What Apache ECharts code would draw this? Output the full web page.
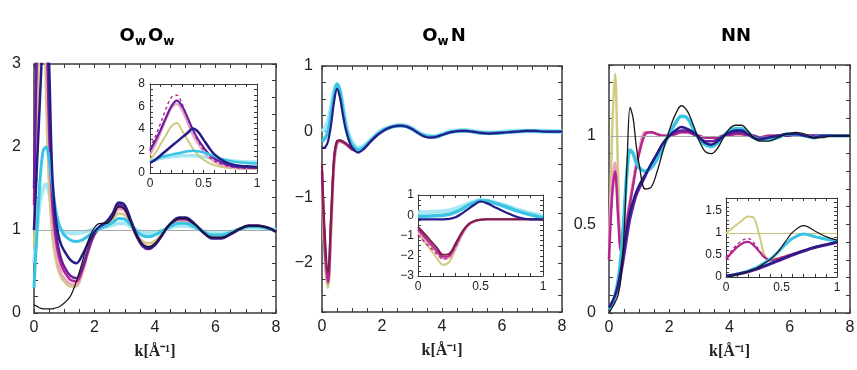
<!DOCTYPE html>
<html>
<head>
<meta charset="utf-8">
<script src="https://cdn.jsdelivr.net/npm/echarts@6/dist/echarts.min.js"></script>
<style>
  html, body { margin: 0; padding: 0; background: #fff; }
  #main { width: 857px; height: 370px; }
</style>
</head>
<body>
<div id="main"></div>
<script>
// k grid of the three main panels and of the three insets
var KX = [0, 0.1, 0.2, 0.3, 0.4, 0.5, 0.6, 0.7, 0.8, 0.9, 1.0, 1.2, 1.4, 1.6, 1.8, 2.0, 2.2, 2.4, 2.6, 2.8,
          3.0, 3.2, 3.4, 3.6, 3.8, 4.0, 4.2, 4.4, 4.6, 4.8, 5.0, 5.3, 5.6, 5.9, 6.2, 6.5, 6.8, 7.1, 7.4, 7.7, 8.0];
var IX = [0, 0.05, 0.1, 0.15, 0.2, 0.25, 0.3, 0.35, 0.4, 0.45, 0.5, 0.55, 0.6, 0.7, 0.8, 0.9, 1.0];

// O_w O_w
var ooBlack   = [0.10,0.08,0.06,0.05,0.05,0.05,0.05,0.06,0.07,0.09,0.12, 0.20,0.38,0.62,0.88,1.03,1.08,1.08,1.15,1.28, 1.25,1.08,0.92,0.82,0.80,0.84,0.93,1.03,1.10,1.14, 1.14,1.07,0.97,0.91,0.91,0.96,1.02,1.05,1.05,1.03,0.98];
var ooNavy    = [1.0,1.8,2.6,3.4,4.0,3.0,1.7,1.2,0.95,0.82,0.75, 0.64,0.60,0.70,0.85,0.98,1.05,1.10,1.20,1.33, 1.30,1.12,0.94,0.82,0.78,0.82,0.92,1.03,1.11,1.15, 1.15,1.08,0.97,0.90,0.90,0.95,1.01,1.05,1.05,1.03,0.98];
var ooPurple  = [1.5,3.5,5.5,6.3,4.2,2.4,1.5,1.05,0.80,0.65,0.56, 0.45,0.42,0.55,0.78,0.96,1.05,1.10,1.18,1.30, 1.27,1.10,0.92,0.80,0.77,0.82,0.92,1.03,1.10,1.14, 1.14,1.07,0.97,0.90,0.90,0.95,1.01,1.05,1.05,1.03,0.98];
var ooMagenta = [1.3,3.4,5.8,6.0,3.9,2.2,1.35,0.95,0.72,0.58,0.50, 0.40,0.38,0.52,0.76,0.95,1.04,1.09,1.17,1.28, 1.25,1.09,0.92,0.81,0.78,0.83,0.92,1.03,1.10,1.13, 1.13,1.07,0.97,0.91,0.91,0.95,1.01,1.05,1.05,1.03,0.98];
var ooPink    = [1.0,2.8,5.0,5.5,3.4,1.9,1.15,0.80,0.60,0.48,0.42, 0.35,0.34,0.50,0.75,0.94,1.03,1.08,1.15,1.25, 1.23,1.08,0.93,0.83,0.80,0.84,0.93,1.03,1.09,1.12, 1.12,1.06,0.97,0.92,0.92,0.96,1.01,1.04,1.04,1.02,0.98];
var ooOlive   = [0.8,2.0,3.8,4.2,2.6,1.5,0.95,0.68,0.52,0.43,0.38, 0.32,0.32,0.48,0.74,0.94,1.03,1.07,1.12,1.20, 1.18,1.06,0.94,0.86,0.84,0.87,0.94,1.02,1.08,1.11, 1.11,1.05,0.98,0.93,0.93,0.97,1.01,1.04,1.04,1.02,0.99];
var ooCyan    = [0.3,1.0,1.6,1.95,2.0,1.85,1.55,1.28,1.10,1.00,0.94, 0.88,0.86,0.88,0.93,0.98,1.02,1.05,1.09,1.14, 1.13,1.06,0.98,0.93,0.92,0.94,0.98,1.02,1.06,1.08, 1.08,1.04,0.98,0.94,0.94,0.97,1.01,1.04,1.04,1.02,0.99];
var ooLcyan   = [0.6,1.0,1.35,1.5,1.55,1.45,1.3,1.15,1.05,1.0,0.98, 0.96,0.96,0.97,0.99,1.01,1.03,1.04,1.06,1.08, 1.08,1.04,1.0,0.97,0.96,0.97,0.99,1.01,1.04,1.05, 1.05,1.03,0.99,0.96,0.96,0.98,1.01,1.03,1.03,1.02,1.0];

var i1Navy    = [0.9,1.2,1.6,2.0,2.4,2.8,3.2,3.6,4.0,3.7,3.0,2.3,1.7,1.0,0.7,0.6,0.55];
var i1Purple  = [2.0,2.9,3.9,5.0,6.0,6.5,6.0,5.0,3.9,3.0,2.3,1.7,1.3,0.8,0.55,0.5,0.45];
var i1MagDash = [2.2,3.3,4.5,5.8,6.8,7.0,6.2,5.0,3.8,2.9,2.1,1.5,1.1,0.7,0.5,0.45,0.45];
var i1Pink    = [1.6,2.5,3.6,4.8,5.8,6.2,5.6,4.5,3.4,2.6,1.9,1.4,1.0,0.6,0.45,0.4,0.4];
var i1Olive   = [1.2,1.8,2.6,3.4,4.2,4.5,3.8,3.0,2.2,1.6,1.2,0.9,0.7,0.5,0.4,0.35,0.35];
var i1Cyan    = [1.0,1.2,1.4,1.55,1.65,1.75,1.85,1.95,2.0,1.95,1.85,1.7,1.5,1.2,1.0,0.9,0.85];
var i1Lcyan   = [1.1,1.2,1.3,1.4,1.45,1.5,1.55,1.55,1.55,1.5,1.45,1.4,1.3,1.15,1.05,1.0,0.98];

// O_w N
var onNavy    = [-0.25,-0.24,-0.15,0.10,0.45,0.65,0.52,0.25,0.02,-0.14,-0.24, -0.32,-0.26,-0.16,-0.07,0.00,0.05,0.08,0.09,0.08, 0.04,-0.02,-0.07,-0.09,-0.08,-0.05,-0.02,0.00,0.01,0.01, 0.00,-0.02,-0.03,-0.02,-0.01,0.00,0.01,0.01,0.00,0.00,0.00];
var onCyan    = [-0.15,-0.10,0.00,0.25,0.55,0.72,0.60,0.32,0.06,-0.10,-0.20, -0.28,-0.24,-0.15,-0.06,0.01,0.05,0.08,0.09,0.08, 0.04,-0.02,-0.06,-0.08,-0.08,-0.05,-0.02,0.00,0.01,0.01, 0.00,-0.02,-0.02,-0.02,-0.01,0.00,0.01,0.01,0.00,0.00,0.00];
var onLcyan   = [0.00,0.05,0.15,0.35,0.60,0.72,0.62,0.36,0.10,-0.06,-0.16, -0.25,-0.22,-0.14,-0.05,0.02,0.06,0.09,0.10,0.09, 0.05,-0.01,-0.05,-0.07,-0.07,-0.04,-0.01,0.01,0.02,0.02, 0.01,-0.01,-0.02,-0.01,0.00,0.01,0.01,0.01,0.01,0.00,0.00];
var onMaroon  = [-0.5,-1.6,-2.15,-1.3,-0.4,-0.14,-0.13,-0.15,-0.18,-0.22,-0.26, -0.30,-0.26,-0.16,-0.07,0.00,0.05,0.08,0.09,0.08, 0.04,-0.02,-0.07,-0.09,-0.08,-0.05,-0.02,0.00,0.01,0.01, 0.00,-0.02,-0.03,-0.02,-0.01,0.00,0.01,0.01,0.00,0.00,0.00];
var onMagenta = [-0.6,-1.8,-2.3,-1.4,-0.45,-0.16,-0.14,-0.16,-0.19,-0.23,-0.27, -0.30,-0.26,-0.16,-0.07,0.00,0.05,0.08,0.09,0.08, 0.04,-0.02,-0.07,-0.09,-0.08,-0.05,-0.02,0.00,0.01,0.01, 0.00,-0.02,-0.03,-0.02,-0.01,0.00,0.01,0.01,0.00,0.00,0.00];
var onPink    = [-0.7,-1.9,-2.3,-1.5,-0.5,-0.18,-0.15,-0.17,-0.20,-0.23,-0.27, -0.29,-0.25,-0.16,-0.07,0.00,0.05,0.08,0.09,0.08, 0.04,-0.02,-0.07,-0.08,-0.08,-0.05,-0.02,0.00,0.01,0.01, 0.00,-0.02,-0.02,-0.02,-0.01,0.00,0.01,0.01,0.00,0.00,0.00];
var onOlive   = [-0.9,-2.0,-2.38,-1.6,-0.55,-0.20,-0.16,-0.17,-0.20,-0.23,-0.27, -0.29,-0.25,-0.16,-0.07,0.00,0.05,0.08,0.09,0.08, 0.04,-0.02,-0.06,-0.08,-0.08,-0.05,-0.02,0.00,0.01,0.01, 0.00,-0.02,-0.02,-0.02,-0.01,0.00,0.01,0.01,0.00,0.00,0.00];

var i2Navy    = [-0.2,-0.2,-0.2,-0.2,-0.2,-0.18,-0.1,0.08,0.3,0.52,0.68,0.6,0.45,0.15,-0.1,-0.2,-0.2];
var i2Cyan    = [-0.05,-0.05,-0.04,-0.02,0.0,0.05,0.15,0.3,0.48,0.62,0.72,0.7,0.62,0.42,0.2,0.02,-0.12];
var i2Lcyan   = [0.15,0.15,0.16,0.18,0.2,0.25,0.33,0.45,0.58,0.68,0.75,0.73,0.66,0.48,0.28,0.1,-0.02];
var i2Maroon  = [-0.58,-0.9,-1.25,-1.6,-1.95,-1.9,-1.4,-0.85,-0.45,-0.28,-0.22,-0.2,-0.2,-0.2,-0.2,-0.2,-0.2];
var i2MagDash = [-0.98,-1.3,-1.6,-1.9,-2.15,-2.05,-1.55,-0.95,-0.5,-0.3,-0.22,-0.2,-0.2,-0.2,-0.2,-0.2,-0.2];
var i2Magenta = [-0.7,-1.05,-1.4,-1.75,-2.05,-2.0,-1.5,-0.9,-0.48,-0.3,-0.22,-0.2,-0.2,-0.2,-0.2,-0.2,-0.2];
var i2Pink    = [-0.8,-1.15,-1.5,-1.85,-2.15,-2.1,-1.6,-1.0,-0.52,-0.3,-0.22,-0.2,-0.2,-0.2,-0.2,-0.2,-0.2];
var i2Olive   = [-0.9,-1.3,-1.7,-2.1,-2.45,-2.3,-1.7,-1.0,-0.5,-0.3,-0.22,-0.2,-0.2,-0.2,-0.2,-0.2,-0.2];

// N N
var nnBlack   = [0.00,0.03,0.06,0.10,0.20,0.45,0.85,1.16,1.10,0.95,0.84, 0.70,0.71,0.80,0.92,1.03,1.12,1.17,1.14,1.06, 0.97,0.91,0.90,0.93,0.99,1.04,1.06,1.06,1.03,0.99, 0.97,0.97,0.99,1.01,1.02,1.01,0.99,0.99,1.00,1.00,1.00];
var nnCyan    = [0.02,0.05,0.10,0.18,0.32,0.55,0.80,0.92,0.90,0.85,0.82, 0.80,0.82,0.87,0.94,1.01,1.07,1.11,1.10,1.04, 0.98,0.95,0.94,0.96,1.00,1.03,1.04,1.04,1.02,0.99, 0.98,0.98,0.99,1.01,1.01,1.00,0.99,1.00,1.00,1.00,1.00];
var nnNavy    = [0.03,0.06,0.10,0.16,0.25,0.37,0.48,0.57,0.63,0.68,0.72, 0.78,0.84,0.90,0.96,1.00,1.03,1.05,1.04,1.02, 0.99,0.96,0.95,0.97,1.00,1.02,1.03,1.03,1.01,0.99, 0.98,0.99,1.00,1.01,1.01,1.00,0.99,1.00,1.00,1.00,1.00];
var nnPurple  = [0.02,0.05,0.09,0.14,0.22,0.32,0.43,0.53,0.60,0.66,0.70, 0.77,0.84,0.90,0.96,1.00,1.02,1.03,1.03,1.01, 0.99,0.97,0.97,0.98,1.00,1.01,1.02,1.02,1.01,1.00, 0.99,0.99,1.00,1.00,1.01,1.00,1.00,1.00,1.00,1.00,1.00];
var nnMagenta = [0.30,0.65,0.80,0.55,0.35,0.42,0.52,0.62,0.72,0.82,0.90, 1.01,1.02,1.01,1.00,1.00,1.01,1.02,1.02,1.01, 1.00,0.99,0.99,0.99,1.00,1.00,1.01,1.01,1.00,1.00, 0.99,1.00,1.00,1.00,1.00,1.00,1.00,1.00,1.00,1.00,1.00];
var nnPink    = [0.40,0.75,0.85,0.60,0.38,0.44,0.54,0.64,0.74,0.84,0.92, 1.02,1.02,1.01,1.00,1.00,1.01,1.02,1.02,1.01, 1.00,0.99,0.99,0.99,1.00,1.00,1.01,1.01,1.00,1.00, 0.99,1.00,1.00,1.00,1.00,1.00,1.00,1.00,1.00,1.00,1.00];
var nnOlive   = [0.30,1.00,1.35,0.80,0.36,0.44,0.54,0.64,0.74,0.84,0.92, 1.02,1.02,1.01,1.00,1.00,1.01,1.02,1.02,1.01, 1.00,0.99,0.99,0.99,1.00,1.00,1.01,1.01,1.00,1.00, 0.99,1.00,1.00,1.00,1.00,1.00,1.00,1.00,1.00,1.00,1.00];

var i3Black   = [0,0.02,0.05,0.08,0.12,0.17,0.24,0.32,0.4,0.52,0.68,0.86,1.02,1.17,1.05,0.92,0.84];
var i3Cyan    = [0.02,0.04,0.07,0.1,0.14,0.19,0.25,0.33,0.41,0.52,0.65,0.78,0.88,0.98,0.92,0.86,0.82];
var i3Navy    = [0.03,0.05,0.07,0.1,0.13,0.17,0.21,0.26,0.31,0.36,0.41,0.46,0.51,0.6,0.68,0.74,0.8];
var i3Purple  = [0.01,0.03,0.05,0.08,0.11,0.15,0.19,0.24,0.29,0.34,0.39,0.44,0.49,0.58,0.66,0.72,0.78];
var i3Magenta = [0.4,0.55,0.68,0.77,0.8,0.72,0.58,0.44,0.38,0.4,0.44,0.48,0.52,0.6,0.68,0.74,0.8];
var i3MagDash = [0.45,0.6,0.74,0.84,0.88,0.78,0.6,0.45,0.39,0.41,0.45,0.49,0.53,0.61,0.69,0.75,0.8];
var i3Olive   = [1.0,1.1,1.2,1.3,1.38,1.35,0.95,0.48,0.4,0.42,0.45,0.49,0.53,0.61,0.69,0.75,0.8];

// tick labels
var mainK = [0, 2, 4, 6, 8];
var insetK = [0, 0.5, 1];
var ooTicks = [0, 1, 2, 3];
var onTicks = [-2, -1, 0, 1];
var nnTicks = [0, 0.5, 1];
var i1Ticks = [0, 2, 4, 6, 8];
var i2Ticks = [-3, -2, -1, 0, 1];
var i3Ticks = [0, 0.5, 1, 1.5];

var C = {
  black: '#161616', navy: '#241d88', purple: '#6a1f9e', magenta: '#b4258f',
  maroon: '#7d1f4c', pink: '#eca4c0', olive: '#cfcb82', cyan: '#3ac4e4', lcyan: '#a6e9f4'
};

var myChart = echarts.init(document.getElementById('main'));

var grids = [
  { left: 34, top: 64, width: 242, height: 249 },
  { left: 150, top: 84, width: 107, height: 89 },
  { left: 322, top: 66, width: 240, height: 246 },
  { left: 418, top: 195, width: 125, height: 81 },
  { left: 609, top: 65, width: 241, height: 248 },
  { left: 726, top: 198, width: 111, height: 79 }
];
grids.forEach(function (g) { g.outerBoundsMode = 'none'; g.containLabel = false; });

function minusFmt(v) { return v < 0 ? '\u2212' + (-v) : String(v); }

var xAxes = [], yAxes = [];
function addAxes(gi, xr, yr, big, yMargin) {
  var line = { show: true, onZero: false, lineStyle: { color: '#3a3a3a', width: big ? 1.5 : 1 } };
  var tick = { show: true, inside: true, length: big ? 4 : 3, lineStyle: { color: '#3a3a3a', width: 1 } };
  var fs = big ? 16 : 12;
  var lab = { fontSize: fs, color: '#222', fontFamily: 'Liberation Sans' };
  var common = { gridIndex: gi, type: 'value', axisLine: line, axisTick: tick, splitLine: { show: false } };
  xAxes.push(Object.assign({}, common, {
    position: 'bottom', min: xr[0], max: xr[1], interval: xr[2],
    axisLabel: Object.assign({ customValues: xr[3], margin: big ? 7 : 5 }, lab),
    name: big ? 'k[\u00c5\u207b\u00b9]' : '', nameLocation: 'middle', nameGap: 31,
    nameTextStyle: { fontFamily: 'Liberation Serif', fontSize: 16, fontWeight: 'bold', color: '#222' }
  }));
  xAxes.push(Object.assign({}, common, {
    position: 'top', min: xr[0], max: xr[1], interval: xr[2], axisLabel: { show: false }
  }));
  yAxes.push(Object.assign({}, common, {
    position: 'left', min: yr[0], max: yr[1], interval: yr[2],
    axisLabel: Object.assign({ customValues: yr[3], margin: yMargin, formatter: minusFmt }, lab)
  }));
  yAxes.push(Object.assign({}, common, {
    position: 'right', min: yr[0], max: yr[1], interval: yr[2], axisLabel: { show: false }
  }));
}
addAxes(0, [0, 8, 0.5, mainK], [0, 3, 0.2, ooTicks], true, 13);
addAxes(1, [0, 1, 0.1, insetK], [0, 8, 0.5, i1Ticks], false, 5);
addAxes(2, [0, 8, 0.5, mainK], [-2.75, 1, 0.25, onTicks], true, 9);
addAxes(3, [0, 1, 0.1, insetK], [-3, 1, 0.25, i2Ticks], false, 4);
addAxes(4, [0, 8, 0.5, mainK], [0, 1.4, 0.1, nnTicks], true, 13);
addAxes(5, [0, 1, 0.1, insetK], [0, 1.8, 0.1, i3Ticks], false, 4);

function line(gi, xs, ys, color, width, z, dash, ref) {
  var s = {
    type: 'line', xAxisIndex: 2 * gi, yAxisIndex: 2 * gi,
    data: xs.map(function (x, i) { return [x, ys[i]]; }),
    symbol: 'none', smooth: 0.35, silent: true, clip: true, z: z,
    lineStyle: { color: color, width: width, type: dash ? [3, 3] : 'solid' }
  };
  if (ref) {
    s.markLine = {
      silent: true, symbol: 'none', label: { show: false }, animation: false,
      lineStyle: { color: ref, width: 1, type: 'solid' }, data: [{ yAxis: 1 }]
    };
  }
  return s;
}

var series = [
  // O_w O_w
  line(0, KX, ooLcyan, C.lcyan, 4, 2, false, '#a8a8a8'),
  line(0, KX, ooOlive, C.olive, 2.5, 3),
  line(0, KX, ooPink, C.pink, 2.5, 4),
  line(0, KX, ooMagenta, C.magenta, 2.5, 5),
  line(0, KX, ooPurple, C.purple, 2.5, 6),
  line(0, KX, ooCyan, C.cyan, 3, 7),
  line(0, KX, ooNavy, C.navy, 2.5, 8),
  line(0, KX, ooBlack, C.black, 1.2, 9),
  line(1, IX, i1Lcyan, C.lcyan, 3.5, 2),
  line(1, IX, i1Olive, C.olive, 2, 3),
  line(1, IX, i1Pink, C.pink, 2, 4),
  line(1, IX, i1MagDash, C.magenta, 1.5, 5, true),
  line(1, IX, i1Purple, C.purple, 2.2, 6),
  line(1, IX, i1Cyan, C.cyan, 2.5, 7),
  line(1, IX, i1Navy, C.navy, 2.5, 8),
  // O_w N
  line(2, KX, onLcyan, C.lcyan, 4.5, 2),
  line(2, KX, onOlive, C.olive, 2.5, 3),
  line(2, KX, onPink, C.pink, 2.5, 4),
  line(2, KX, onMagenta, C.magenta, 2.5, 5),
  line(2, KX, onMaroon, C.maroon, 2, 6),
  line(2, KX, onCyan, C.cyan, 3.5, 7),
  line(2, KX, onNavy, C.navy, 2.2, 8),
  line(3, IX, i2Lcyan, C.lcyan, 4, 2),
  line(3, IX, i2Olive, C.olive, 2, 3),
  line(3, IX, i2Pink, C.pink, 2, 4),
  line(3, IX, i2Magenta, C.magenta, 2, 5),
  line(3, IX, i2MagDash, C.magenta, 1.5, 5, true),
  line(3, IX, i2Maroon, C.maroon, 2, 6),
  line(3, IX, i2Cyan, C.cyan, 3.5, 7),
  line(3, IX, i2Navy, C.navy, 2.2, 8),
  // N N
  line(4, KX, nnOlive, C.olive, 2.5, 2, false, '#a8a8a8'),
  line(4, KX, nnPink, C.pink, 2.5, 3),
  line(4, KX, nnMagenta, C.magenta, 2.5, 4),
  line(4, KX, nnPurple, C.purple, 2.5, 5),
  line(4, KX, nnCyan, C.cyan, 3.5, 6),
  line(4, KX, nnNavy, C.navy, 2.5, 7),
  line(4, KX, nnBlack, C.black, 1.3, 9),
  line(5, IX, i3Olive, C.olive, 2, 2, false, '#c9c67a'),
  line(5, IX, i3MagDash, C.magenta, 1.5, 3, true),
  line(5, IX, i3Magenta, C.magenta, 2.2, 4),
  line(5, IX, i3Purple, C.purple, 2.2, 5),
  line(5, IX, i3Cyan, C.cyan, 3, 6),
  line(5, IX, i3Navy, C.navy, 2.2, 7),
  line(5, IX, i3Black, C.black, 1.2, 9)
];

var titleRich = {
  o: { fontSize: 18, fontWeight: 'bold', fontFamily: 'DejaVu Sans', color: '#111', verticalAlign: 'top', lineHeight: 18 },
  w: { fontSize: 12, fontWeight: 'bold', fontFamily: 'DejaVu Sans', color: '#111', verticalAlign: 'top', lineHeight: 12, padding: [9, 2, 0, 0] }
};
function panelTitle(x, text) {
  return { type: 'text', x: x, y: 27, silent: true, style: { text: text, rich: titleRich, align: 'center' } };
}

var option = {
  animation: false,
  backgroundColor: '#fff',
  grid: grids,
  xAxis: xAxes,
  yAxis: yAxes,
  graphic: [
    panelTitle(148, '{o|O}{w|w}{o|O}{w|w}'),
    panelTitle(444, '{o|O}{w|w}{o|N}'),
    panelTitle(736, '{o|NN}')
  ],
  series: series
};

myChart.setOption(option);
</script>
</body>
</html>
